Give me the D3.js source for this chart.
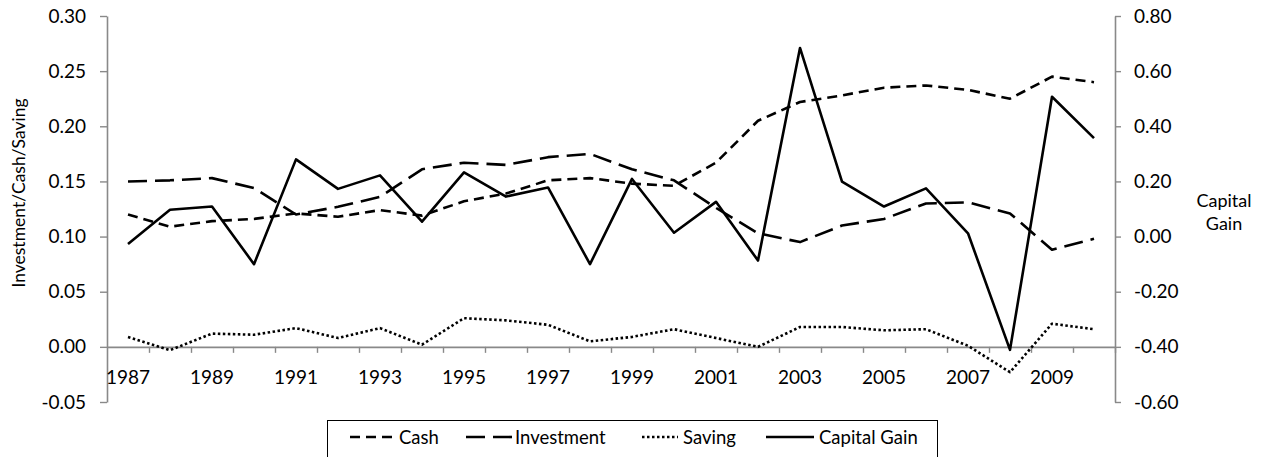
<!DOCTYPE html>
<html>
<head>
<meta charset="utf-8">
<script src="https://cdn.jsdelivr.net/npm/d3@7"></script>
<style>
  html, body { margin: 0; padding: 0; background: #fff; }
  svg { display: block; font-family: Lato, "Open Sans", sans-serif; }
</style>
</head>
<body>
<svg id="chart" width="1264" height="457"></svg>
<script>
const years = [1987,1988,1989,1990,1991,1992,1993,1994,1995,1996,1997,1998,1999,2000,2001,2002,2003,2004,2005,2006,2007,2008,2009,2010];
const cash = [0.120,0.109,0.114,0.116,0.121,0.118,0.124,0.119,0.132,0.139,0.151,0.153,0.148,0.146,0.167,0.205,0.222,0.228,0.235,0.237,0.233,0.225,0.245,0.240];
const investment = [0.150,0.151,0.153,0.144,0.120,0.127,0.136,0.161,0.167,0.165,0.172,0.175,0.161,0.151,0.126,0.103,0.095,0.110,0.116,0.130,0.131,0.121,0.088,0.098];
const saving = [0.009,-0.003,0.012,0.011,0.017,0.008,0.017,0.002,0.026,0.024,0.020,0.005,0.009,0.016,0.008,0.000,0.018,0.018,0.015,0.016,0.001,-0.023,0.021,0.016];
const capitalGain = [-0.027,0.097,0.109,-0.100,0.280,0.173,0.222,0.054,0.233,0.145,0.178,-0.100,0.209,0.014,0.126,-0.087,0.684,0.199,0.109,0.175,0.012,-0.411,0.507,0.357];
const leftTicks = [-0.05,0,0.05,0.10,0.15,0.20,0.25,0.30];
const rightTicks = [-0.6,-0.4,-0.2,0,0.2,0.4,0.6,0.8];
const yearLabels = [1987,1989,1991,1993,1995,1997,1999,2001,2003,2005,2007,2009];
const leftTitle = "Investment/Cash/Saving";
const rightTitle = ["Capital", "Gain"];
const seriesNames = ["Cash", "Investment", "Saving", "Capital Gain"];

const svg = d3.select("#chart");
const L = 107, R = 1115, T = 16, B = 402;
const axisColor = "#898989";

const x = d3.scaleBand().domain(years).range([L, R]).padding(0);
const yL = d3.scaleLinear().domain([-0.05, 0.30]).range([B, T]);
const yR = d3.scaleLinear().domain([-0.6, 0.8]).range([B, T]);
const fmt = v => d3.format(".2f")(v).replace("\u2212", "-");

// Left axis
const gL = svg.append("g").attr("transform", `translate(${L},0)`)
  .call(d3.axisLeft(yL).tickValues(leftTicks).tickFormat(fmt).tickSize(7).tickPadding(14).tickSizeOuter(0));
// Right axis
const gR = svg.append("g").attr("transform", `translate(${R},0)`)
  .call(d3.axisRight(yR).tickValues(rightTicks).tickFormat(fmt).tickSize(6).tickPadding(13).tickSizeOuter(0));
[gL, gR].forEach(g => {
  g.select(".domain").attr("stroke", axisColor).attr("stroke-width", 1.6);
  g.selectAll(".tick line").attr("stroke", axisColor).attr("stroke-width", 1.4);
  g.selectAll(".tick text").attr("fill", "#000").style("font-size", "19px").style("font-family", "Lato, sans-serif");
});

// X axis: line at y=0 of left axis, ticks at category boundaries
const x0 = yL(0);
const xb = d3.scaleLinear().domain([0, years.length]).range([L, R]);
const gXt = svg.append("g").attr("transform", `translate(0,${x0})`)
  .call(d3.axisBottom(xb).tickValues(d3.range(1, years.length + 1)).tickFormat("").tickSize(6).tickSizeOuter(0));
gXt.select(".domain").attr("stroke", axisColor).attr("stroke-width", 1.6);
gXt.selectAll(".tick line").attr("stroke", axisColor).attr("stroke-width", 1.4);
const gXl = svg.append("g").attr("transform", `translate(0,${x0})`)
  .call(d3.axisBottom(x).tickValues(yearLabels).tickSize(0).tickPadding(24));
gXl.select(".domain").remove();
gXl.selectAll(".tick text").attr("fill", "#000").style("font-size", "19px").style("font-family", "Lato, sans-serif");

// Titles
svg.append("text")
  .attr("transform", `translate(18,193) rotate(-90)`)
  .attr("text-anchor", "middle").attr("dominant-baseline", "central")
  .style("font-size", "17.5px").attr("fill", "#000").text(leftTitle);
svg.append("text").attr("x", 1224).attr("y", 200).attr("text-anchor", "middle")
  .attr("dominant-baseline", "central").style("font-size", "18px").text(rightTitle[0]);
svg.append("text").attr("x", 1224).attr("y", 223).attr("text-anchor", "middle")
  .attr("dominant-baseline", "central").style("font-size", "18px").text(rightTitle[1]);

// Series
const styles = [
  {data: cash, y: yL, dash: "10,6"},
  {data: investment, y: yL, dash: "19,8"},
  {data: saving, y: yL, dash: "2.5,2.5"},
  {data: capitalGain, y: yR, dash: null}
];
const cx = d => x(d) + x.bandwidth() / 2;
styles.forEach(s => {
  const line = d3.line().x((d, i) => cx(years[i])).y(d => s.y(d));
  svg.append("path").datum(s.data)
    .attr("d", line)
    .attr("fill", "none").attr("stroke", "#000")
    .attr("stroke-width", 2.6)
    .attr("stroke-linejoin", "round")
    .attr("stroke-dasharray", s.dash);
});

// Legend
svg.append("rect").attr("x", 327.5).attr("y", 420.5).attr("width", 610).attr("height", 50)
  .attr("fill", "#fff").attr("stroke", "#000").attr("stroke-width", 1);
const legendItems = [
  {x0: 350, x1: 395, tx: 399},
  {x0: 466, x1: 512, tx: 515},
  {x0: 642, x1: 678, tx: 683},
  {x0: 766, x1: 814, tx: 819}
];
const ly = 437;
legendItems.forEach((it, i) => {
  svg.append("line").attr("x1", it.x0).attr("x2", it.x1).attr("y1", ly).attr("y2", ly)
    .attr("stroke", "#000").attr("stroke-width", 2.6).attr("stroke-dasharray", styles[i].dash);
  svg.append("text").attr("x", it.tx).attr("y", ly).attr("dominant-baseline", "central")
    .style("font-size", "18.5px").attr("fill", "#000").text(seriesNames[i]);
});
</script>
</body>
</html>
